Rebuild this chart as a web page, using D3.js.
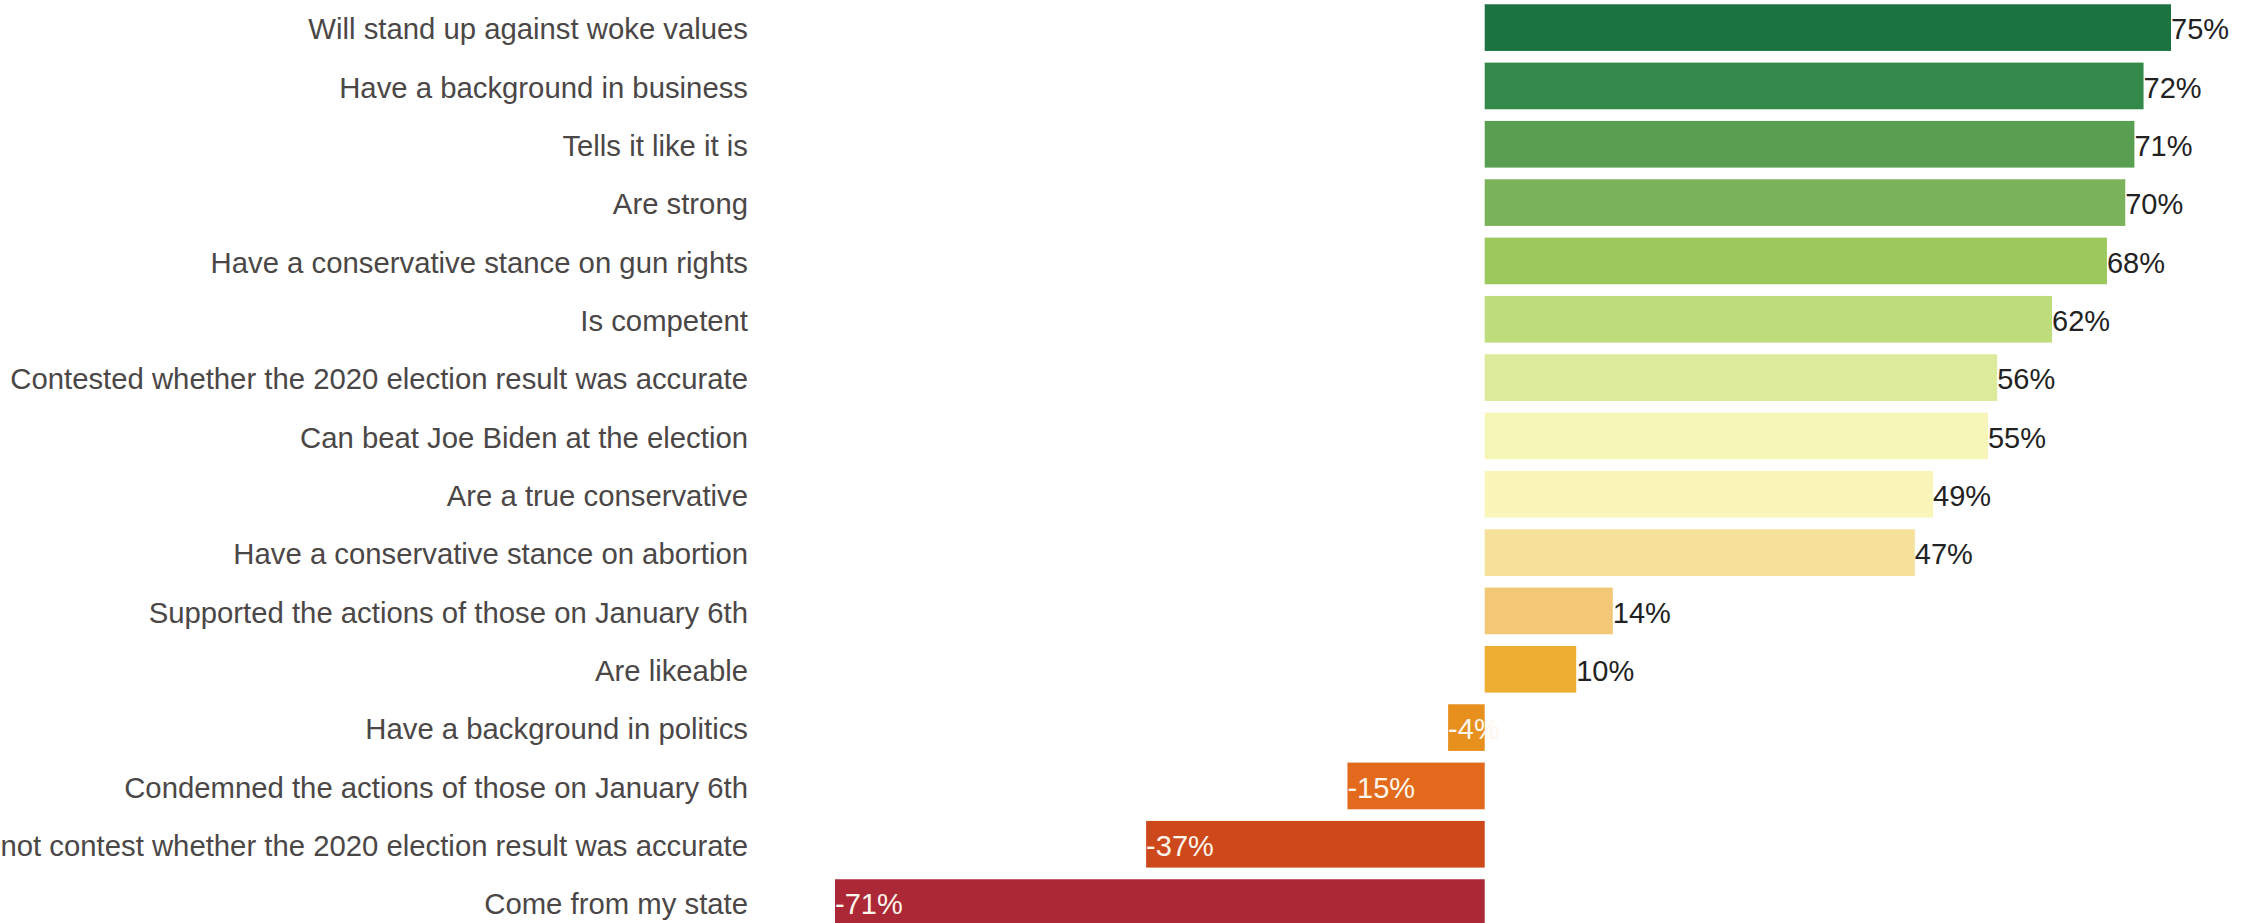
<!DOCTYPE html>
<html>
<head>
<meta charset="utf-8">
<script src="https://cdn.jsdelivr.net/npm/d3@7"></script>
<style>
  body { margin: 0; background: #fff; overflow: hidden; }
  svg { display: block; font-family: "Liberation Sans", Arial, sans-serif; }
</style>
</head>
<body>
<svg width="2246" height="923"></svg>
<script>
// traits, top to bottom
var traits = [
  "Will stand up against woke values",
  "Have a background in business",
  "Tells it like it is",
  "Are strong",
  "Have a conservative stance on gun rights",
  "Is competent",
  "Contested whether the 2020 election result was accurate",
  "Can beat Joe Biden at the election",
  "Are a true conservative",
  "Have a conservative stance on abortion",
  "Supported the actions of those on January 6th",
  "Are likeable",
  "Have a background in politics",
  "Condemned the actions of those on January 6th",
  "Do not contest whether the 2020 election result was accurate",
  "Come from my state"
];

var netScores = [75, 72, 71, 70, 68, 62, 56, 55, 49, 47, 14, 10, -4, -15, -37, -71];

var barColors = [
  "#1b7440", "#33894a", "#589f51", "#7bb35a", "#9bc95d", "#bddc7c",
  "#dceb9b", "#f5f6b8", "#faf5b9", "#f5e19a", "#f2c876", "#eeae33",
  "#e8901e", "#e36a1d", "#cd481a", "#ac2837"
];

var data = traits.map(function(t, i) {
  return {trait: t, value: netScores[i], color: barColors[i]};
});

var svg = d3.select("svg");

var x = d3.scaleLinear()
    .domain(d3.extent(netScores))
    .range([835, 2171]);

var y = d3.scaleBand()
    .domain(traits)
    .range([-7.4, 937.6])
    .padding(0.2);

// bars
svg.append("g")
    .attr("class", "bars")
  .selectAll("rect")
  .data(data)
  .enter().append("rect")
    .attr("x", function(d) { return Math.min(x(0), x(d.value)); })
    .attr("y", function(d) { return y(d.trait); })
    .attr("width", function(d) { return Math.abs(x(d.value) - x(0)); })
    .attr("height", y.bandwidth())
    .attr("fill", function(d) { return d.color; });

// category labels
svg.append("g")
    .attr("class", "labels")
  .selectAll("text")
  .data(data)
  .enter().append("text")
    .attr("x", 748)
    .attr("y", function(d) { return y(d.trait) + y.bandwidth() / 2; })
    .attr("dy", "0.4em")
    .attr("text-anchor", "end")
    .attr("font-size", 29.3)
    .attr("fill", "#4b4747")
    .text(function(d) { return d.trait; });

// value labels
svg.append("g")
    .attr("class", "values")
  .selectAll("text")
  .data(data)
  .enter().append("text")
    .attr("x", function(d) { return x(d.value); })
    .attr("y", function(d) { return y(d.trait) + y.bandwidth() / 2; })
    .attr("dy", "0.4em")
    .attr("font-size", 29)
    .attr("fill", function(d) { return d.value < 0 ? "#fdf6ec" : "#222"; })
    .text(function(d) { return d.value + "%"; });
</script>
</body>
</html>
